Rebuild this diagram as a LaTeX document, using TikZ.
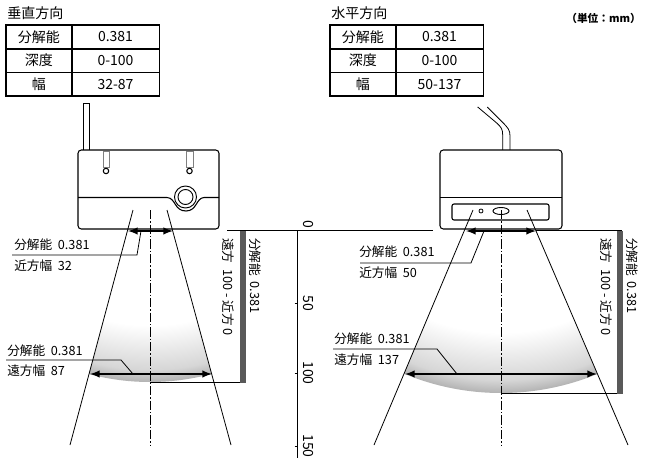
\documentclass[tikz,border=0pt]{standalone}
\usepackage{fontspec}
\setmainfont{Noto Sans CJK JP}
\usetikzlibrary{positioning, arrows, shapes.geometric}
\pgfdeclareradialshading{zonefade}{\pgfpoint{0bp}{0bp}}{color(0bp)=(white); color(19bp)=(white); color(23.7bp)=(black!16); color(25bp)=(black!30); color(50bp)=(black!30)}
\tikzset{
  cellhead/.style={rectangle, draw, line width=0.5pt, minimum width=48.75pt, minimum height=17.25pt, inner sep=0pt, font=\fontsize{10.5}{12}\selectfont},
  cellval/.style={cellhead, minimum width=65.25pt},
  titletext/.style={anchor=west, inner sep=0pt, font=\fontsize{10.5}{12}\selectfont},
  labeltext/.style={anchor=west, inner sep=0pt, font=\fontsize{9.5}{11}\selectfont},
  sidetext/.style={anchor=west, inner sep=0pt, rotate=-90, font=\fontsize{9.5}{11}\selectfont},
  ticktext/.style={inner sep=0pt, rotate=-90, font=\fontsize{10.5}{12}\selectfont},
  body/.style={draw, line width=0.8pt, fill=white, rounded corners=2.5pt},
  slotbox/.style={draw=black!50, line width=0.6pt, fill=white},
  thin line/.style={line width=0.6pt},
  center line/.style={line width=0.5pt, dash pattern=on 7pt off 1.5pt on 1pt off 1.5pt},
  wide arrow/.style={<->, >=latex, line width=1.5pt},
  depth bar/.style={draw=black!65, fill=black!65}
}
\begin{document}
\begin{tikzpicture}[x=0.75pt, y=-0.75pt]
\useasboundingbox (0,0) rectangle (650,467);

% titles
\node[titletext] (titleV) at (7,13) {垂直方向};
\node[titletext] (titleH) at (331,13) {水平方向};
\node[anchor=east, inner sep=0pt, font=\fontsize{8}{10}\selectfont\bfseries] (unit) at (641,18) {（単位：mm）};

% table: vertical
\node[cellhead, anchor=north west] (vA1) at (6,25) {分解能};
\node[cellval, right=0pt of vA1] (vB1) {0.381};
\node[cellhead, below=0pt of vA1] (vA2) {深度};
\node[cellval, right=0pt of vA2] (vB2) {0-100};
\node[cellhead, below=0pt of vA2] (vA3) {幅};
\node[cellval, right=0pt of vA3] (vB3) {32-87};
\draw[line width=1.1pt] (vA1.north west) rectangle (vB3.south east);

% table: horizontal
\node[cellhead, anchor=north west] (hA1) at (330,25) {分解能};
\node[cellval, right=0pt of hA1] (hB1) {0.381};
\node[cellhead, below=0pt of hA1] (hA2) {深度};
\node[cellval, right=0pt of hA2] (hB2) {0-100};
\node[cellhead, below=0pt of hA2] (hA3) {幅};
\node[cellval, right=0pt of hA3] (hB3) {50-137};
\draw[line width=1.1pt] (hA1.north west) rectangle (hB3.south east);

% named points of the beams
\coordinate (vTL) at (133,210); \coordinate (vBL) at (70,445);
\coordinate (vTR) at (167,210); \coordinate (vBR) at (231,445);
\coordinate (hTL) at (473,210); \coordinate (hBL) at (374,445);
\coordinate (hTR) at (527,210); \coordinate (hBR) at (628,445);

% shaded zones
\begin{scope}
  \clip (vTL) -- (vTR) -- (vBR) -- (vBL) -- cycle;
  \shade[shading=zonefade] (150,145.4) circle (236.6);
\end{scope}
\begin{scope}
  \clip (hTL) -- (hTR) -- (hBR) -- (hBL) -- cycle;
  \shade[shading=zonefade] (501,141) circle (252);
\end{scope}

% sensor: vertical
\draw[line width=0.6pt, fill=white] (83,103) rectangle (89,150);
\draw[body] (78,150) rectangle (219,229);
\draw[slotbox] (103,151) rectangle (109,167);
\draw[slotbox] (186,151) rectangle (193,167);
\draw[line width=0.8pt] (106,171) circle (2.7);
\draw[line width=0.8pt] (189.5,171) circle (2.7);
\draw[line width=0.8pt] (78,197.5) -- (167,197.5) .. controls (176,198) and (174,211) .. (186,211)
  .. controls (197,211) and (196,198) .. (204,197.5) -- (219,197.5);
\draw[line width=0.7pt] (185.5,197) circle (11);
\draw[line width=0.7pt] (185.5,197) circle (7.5);

% sensor: horizontal
\draw[thin line] (477.7,107) -- (496.7,123) .. controls (501,127) and (502.7,129) .. (502.7,135) -- (502.7,150);
\draw[thin line] (487.3,107) -- (503.3,123) .. controls (508,128) and (510,130) .. (510,136) -- (510,150);
\draw[body] (440,150) rectangle (562,229);
\draw[line width=0.9pt] (440,197.5) -- (562,197.5);
\draw[line width=0.8pt, rounded corners=1.5pt] (452,204) rectangle (549,220);
\draw[line width=0.6pt] (481,211) circle (2);
\draw[line width=0.7pt] (501,211) ellipse (8 and 3.5);

\draw[thin line] (vTL) -- (vBL);
\draw[thin line] (vTR) -- (vBR);
\draw[thin line] (hTL) -- (hBL);
\draw[thin line] (hTR) -- (hBR);
\draw[center line] (150,210) -- (150,445);
\draw[center line] (501,210) -- (501,445);

% widths
\coordinate (vNearL) at (128,231); \coordinate (vNearR) at (173,231);
\coordinate (vFarL) at (90,374); \coordinate (vFarR) at (212,374);
\coordinate (hNearL) at (466,231); \coordinate (hNearR) at (536,231);
\coordinate (hFarL) at (405,374); \coordinate (hFarR) at (597,374);
\draw[wide arrow] (vNearL) -- (vNearR);
\draw[wide arrow] (vFarL) -- (vFarR);
\draw[wide arrow] (hNearL) -- (hNearR);
\draw[wide arrow] (hFarL) -- (hFarR);

% leaders and labels
\node[labeltext] (vNearRes) at (14,245) {分解能\ \ 0.381};
\node[labeltext] (vNearW) at (14,266) {近方幅\ \ 32};
\node[labeltext] (vFarRes) at (7,351) {分解能\ \ 0.381};
\node[labeltext] (vFarW) at (7,371) {遠方幅\ \ 87};
\node[labeltext] (hNearRes) at (359,252) {分解能\ \ 0.381};
\node[labeltext] (hNearW) at (359,273) {近方幅\ \ 50};
\node[labeltext] (hFarRes) at (334,339) {分解能\ \ 0.381};
\node[labeltext] (hFarW) at (334,360) {遠方幅\ \ 137};
\draw[thin line] (141,231) -- (137,255) -- (12,255);
\draw[thin line] (133,374) -- (121,360) -- (6,360);
\draw[thin line] (484,231) -- (471,263) -- (360,263);
\draw[thin line] (457,374) -- (437,349) -- (333,349);

% depth scale
\draw[thin line] (227,230.5) -- (433,230.5);
\draw[thin line] (536,230.5) -- (622,230.5);
\draw[thin line] (150,382) -- (245,382);
\draw[thin line] (501,393) -- (622,393);
\fill[depth bar] (240,231) rectangle (245,382);
\fill[depth bar] (617,231) rectangle (622,393);
\draw[line width=0.7pt] (297,230.5) -- (297,458);
\foreach \yy/\lab in {303/50, 373/100, 446/150} {
  \draw[thin line] (294.5,\yy) -- (297,\yy);
  \node[ticktext] (tick\lab) at (308,\yy) {\lab};
}
\node[ticktext] (tick0) at (308,224) {0};

% side labels
\node[sidetext] (vFarNear) at (228,238) {遠方\ \ 100\ -\ 近方\ 0};
\node[sidetext] (vRes) at (255,238) {分解能\ \ 0.381};
\node[sidetext] (hFarNear) at (606,238) {遠方\ \ 100\ -\ 近方\ 0};
\node[sidetext] (hRes) at (632,238) {分解能\ \ 0.381};
\end{tikzpicture}
\end{document}
